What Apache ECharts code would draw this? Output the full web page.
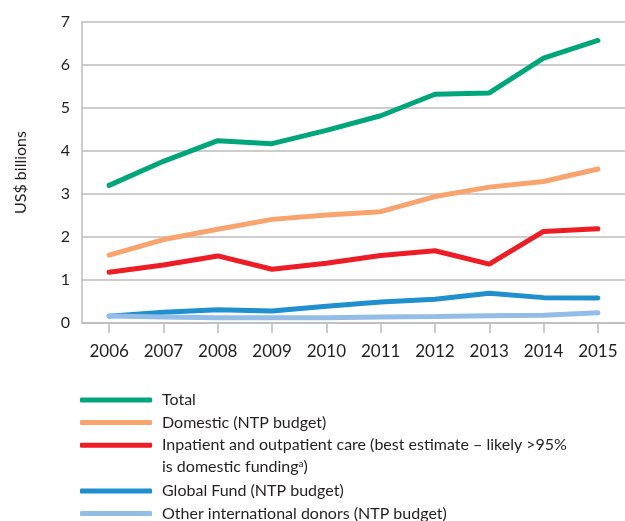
<!DOCTYPE html>
<html>
<head>
<meta charset="utf-8">
<script src="https://cdn.jsdelivr.net/npm/echarts@6/dist/echarts.min.js"></script>
<style>
  html, body { margin: 0; padding: 0; background: #fff; }
  #chart { width: 625px; height: 521px; }
</style>
</head>
<body>
<div id="chart"></div>
<script>
// Years on the horizontal axis
const years = ['2006', '2007', '2008', '2009', '2010', '2011', '2012', '2013', '2014', '2015'];

// Funding, US$ billions
const total      = [3.20, 3.76, 4.24, 4.17, 4.48, 4.82, 5.32, 5.35, 6.16, 6.57];
const domestic   = [1.58, 1.94, 2.18, 2.41, 2.51, 2.59, 2.94, 3.16, 3.29, 3.58];
const inpatient  = [1.18, 1.35, 1.56, 1.25, 1.39, 1.57, 1.68, 1.37, 2.13, 2.19];
const globalFund = [0.16, 0.25, 0.31, 0.28, 0.39, 0.49, 0.55, 0.69, 0.59, 0.58];
const otherDonor = [0.16, 0.14, 0.12, 0.12, 0.12, 0.14, 0.15, 0.17, 0.18, 0.24];

// Vertical axis ticks
const yTicks = { min: 0, max: 7, interval: 1 };

const names = {
  total: 'Total',
  domestic: 'Domestic (NTP budget)',
  inpatient: 'Inpatient and outpatient care (best estimate – likely >95%',
  globalFund: 'Global Fund (NTP budget)',
  other: 'Other international donors (NTP budget)'
};

const colors = {
  total: '#00a67b',
  domestic: '#f9a46e',
  inpatient: '#ee1c25',
  globalFund: '#1f8fce',
  other: '#93bde6'
};

const FONT = 'Lato';
const TEXT = '#231f20';
const GRID = '#bcbcbc';

function lineSeries(name, data, color) {
  return {
    name: name,
    type: 'line',
    data: data,
    symbol: 'none',
    smooth: false,
    color: color,
    lineStyle: { width: 5, color: color, cap: 'round' },
    emphasis: { disabled: true }
  };
}

const legendCommon = {
  orient: 'vertical',
  left: 80,
  height: 120,
  padding: 0,
  itemWidth: 72,
  itemHeight: 5,
  itemGap: 0,
  icon: 'roundRect',
  selectedMode: false,
  textStyle: {
    fontFamily: FONT,
    fontSize: 16,
    color: TEXT,
    lineHeight: 22.6,
    padding: [0, 0, 0, 5]
  }
};

const chart = echarts.init(document.getElementById('chart'), null, { renderer: 'canvas' });

chart.setOption({
  animation: false,
  backgroundColor: '#ffffff',
  grid: { left: 82, top: 22, width: 544, height: 301, containLabel: false },
  xAxis: {
    type: 'category',
    data: years,
    boundaryGap: true,
    axisLine: { show: true, lineStyle: { color: GRID, width: 1.5 } },
    axisTick: { show: true, alignWithLabel: true, length: 10, lineStyle: { color: GRID, width: 1.5 } },
    axisLabel: { margin: 20, fontFamily: FONT, fontSize: 17, color: TEXT },
    splitLine: { show: false }
  },
  yAxis: {
    type: 'value',
    min: yTicks.min,
    max: yTicks.max,
    interval: yTicks.interval,
    name: 'US$ billions',
    nameLocation: 'middle',
    nameGap: 53,
    nameTextStyle: { fontFamily: FONT, fontSize: 16, color: TEXT },
    axisLine: { show: true, lineStyle: { color: GRID, width: 1.5 } },
    axisTick: { show: false },
    axisLabel: { margin: 12, fontFamily: FONT, fontSize: 16, color: TEXT },
    splitLine: { show: true, lineStyle: { color: GRID, width: 1.5 } }
  },
  legend: [
    Object.assign({}, legendCommon, {
      top: 388.7,
      data: [names.total, names.domestic, names.inpatient]
    }),
    Object.assign({}, legendCommon, {
      top: 479.7,
      data: [names.globalFund, names.other]
    })
  ],
  graphic: [
    {
      type: 'text',
      left: 162,
      top: 459,
      style: {
        text: 'is domestic funding{sup|a})',
        fontFamily: FONT,
        fontSize: 16,
        fill: TEXT,
        rich: {
          sup: { fontFamily: FONT, fontSize: 10, fill: TEXT, verticalAlign: 'top', padding: [0, 0, 6, 0] }
        }
      }
    }
  ],
  series: [
    lineSeries(names.total, total, colors.total),
    lineSeries(names.domestic, domestic, colors.domestic),
    lineSeries(names.inpatient, inpatient, colors.inpatient),
    lineSeries(names.globalFund, globalFund, colors.globalFund),
    lineSeries(names.other, otherDonor, colors.other)
  ]
});
</script>
</body>
</html>
